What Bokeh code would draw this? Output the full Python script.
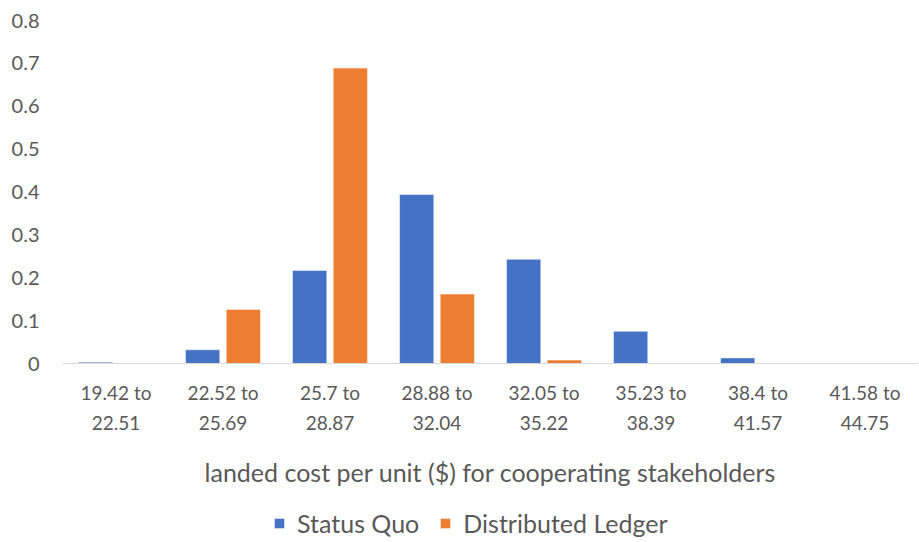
from bokeh.plotting import figure
from bokeh.models import ColumnDataSource, Legend, LegendItem, FixedTicker, Range1d
from bokeh.layouts import column
from bokeh.transform import dodge
from bokeh.embed import file_html
from bokeh.resources import INLINE

categories = ["19.42 to\n22.51", "22.52 to\n25.69", "25.7 to\n28.87", "28.88 to\n32.04",
              "32.05 to\n35.22", "35.23 to\n38.39", "38.4 to\n41.57", "41.58 to\n44.75"]
status_quo = [0.003, 0.032, 0.217, 0.394, 0.243, 0.075, 0.013, 0.0]
distributed_ledger = [0.0, 0.126, 0.689, 0.162, 0.008, 0.0, 0.0, 0.0]
y_ticks = [0, 0.1, 0.2, 0.3, 0.4, 0.5, 0.6, 0.7, 0.8]
series_names = ["Status Quo", "Distributed Ledger"]
series_colors = ["#4472C4", "#ED7D31"]

xs = list(range(len(categories)))
src = ColumnDataSource(dict(x=xs, sq=status_quo, dl=distributed_ledger))

FONT = "Lato"
GREY = "#595959"

p = figure(frame_width=856, frame_height=343, output_backend="svg", toolbar_location=None,
           x_range=Range1d(-0.5, len(categories) - 0.5), y_range=Range1d(0, 0.8),
           min_border_left=62, min_border_right=1, min_border_top=20, min_border_bottom=0)
p.outline_line_color = None
p.xgrid.grid_line_color = None
p.ygrid.grid_line_color = None

w = 0.32
p.vbar(x=dodge("x", -0.19, range=p.x_range), top="sq", width=w, source=src,
       fill_color=series_colors[0], line_color="white", line_width=0.5)
p.vbar(x=dodge("x", 0.19, range=p.x_range), top="dl", width=w, source=src,
       fill_color=series_colors[1], line_color="white", line_width=0.5)

p.xaxis.ticker = FixedTicker(ticks=xs)
p.xaxis.major_label_overrides = {i: c for i, c in enumerate(categories)}
p.xaxis.major_tick_line_color = None
p.xaxis.minor_tick_line_color = None
p.xaxis.axis_line_color = "#d9d9d9"
p.xaxis.axis_line_width = 1
p.xaxis.major_label_text_font = FONT
p.xaxis.major_label_text_font_size = "19px"
p.xaxis.major_label_text_line_height = 1.32
p.xaxis.major_label_text_color = GREY
p.xaxis.major_label_standoff = 11
p.xaxis.axis_label = "landed cost per unit ($) for cooperating stakeholders"
p.xaxis.axis_label_text_font = FONT
p.xaxis.axis_label_text_font_size = "25px"
p.xaxis.axis_label_text_font_style = "normal"
p.xaxis.axis_label_text_color = GREY
p.xaxis.axis_label_standoff = 20

p.yaxis.ticker = FixedTicker(ticks=y_ticks)
p.yaxis.major_label_overrides = {0: "0"}
p.yaxis.axis_line_color = None
p.yaxis.major_tick_line_color = None
p.yaxis.minor_tick_line_color = None
p.yaxis.major_label_text_font = FONT
p.yaxis.major_label_text_font_size = "20px"
p.yaxis.major_label_text_color = GREY
p.yaxis.major_label_standoff = 17

# legend strip below the chart (placeholder bars of zero height carry the legend swatches)
lg = figure(width=919, height=50, output_backend="svg", toolbar_location=None,
            x_range=Range1d(0, 1), y_range=Range1d(0, 1),
            min_border_left=0, min_border_right=0, min_border_top=0, min_border_bottom=0)
lg.axis.visible = False
lg.grid.visible = False
lg.outline_line_color = None
lsrc = ColumnDataSource(dict(x=[0.5], top=[0.0]))
items = []
for name, col in zip(series_names, series_colors):
    r = lg.vbar(x="x", top="top", width=0.0, source=lsrc, fill_color=col, line_color=None)
    items.append(LegendItem(label=name, renderers=[r]))
legend = Legend(items=items, orientation="horizontal", location=(211, 1),
                label_text_font=FONT, label_text_font_size="25px", label_text_color=GREY,
                glyph_width=12, glyph_height=12, spacing=20, label_standoff=12,
                label_height=26, border_line_color=None, background_fill_alpha=0,
                padding=0, margin=0)
lg.add_layout(legend, "center")

layout = column(p, lg, spacing=0)
open("out.html", "w").write(file_html(layout, INLINE))
